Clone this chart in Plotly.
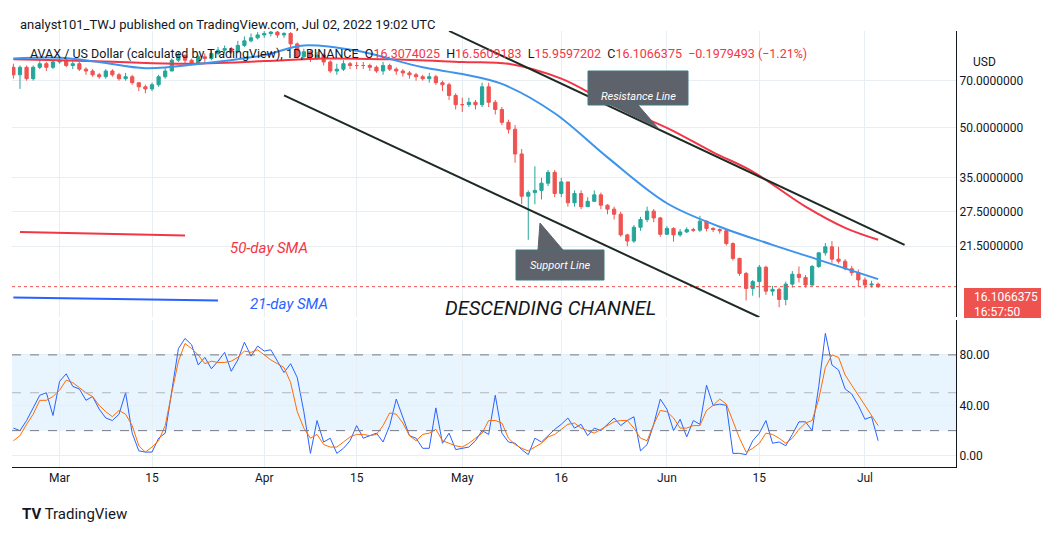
import pandas as pd
import plotly.graph_objects as go
from plotly.subplots import make_subplots

# daily candles, Feb 22 .. Jul 3
dates = pd.date_range("2022-02-22", "2022-07-03", freq="D")
close = [73, 77, 71, 77, 79, 77, 80,
         81, 78, 79, 76, 75, 73, 72, 75, 73, 71, 72, 69, 67, 66, 68, 72, 75, 81, 84, 81, 79, 83, 82, 85, 87, 88, 86, 90, 93, 95, 97,
         98, 99, 97, 98, 91, 83, 86, 83, 84, 80, 75, 76, 79, 78, 78, 78, 77, 75, 78, 76, 75, 74, 73, 72, 71, 72, 69, 68, 63, 59,
         59, 60, 59, 67, 60, 57, 52, 49.5,
         41.5, 30.7, 31.5, 32, 33.7, 36.4, 31.3, 34, 29.3, 31.3, 28.5, 29.6, 31, 28.8, 28, 27, 23.3, 22.3, 24.6, 26, 27.6, 26.3, 23.4,
         24.4, 23.3, 23.8, 24.2, 24.1, 25.7, 24.4, 24.2, 24.0, 21.9, 19.7, 17.7, 15.9, 16.7, 18.5, 15.6, 15.8, 14.7, 16.4, 17.6,
         17.2, 16.3, 18.6, 20.5, 21.4, 19.6, 19.3, 18.3, 17.8, 16.9,
         16.3, 16.4, 16.1066375]
high = [79, 78, 78, 78, 81, 80, 81,
        83, 82, 81, 80, 77, 76, 74, 76, 76, 74, 74, 73, 69, 68, 69, 73, 77, 82, 86, 84, 82, 84, 85, 87, 89, 90, 89, 93, 96, 98, 99,
        100, 101, 100, 99, 99, 92, 88, 87, 86, 85, 81, 79, 81, 80, 80, 80, 79, 78, 80, 79, 77, 76, 75, 74, 73, 74, 73, 70, 69, 64,
        62, 62, 61, 69, 69, 61, 58, 53,
        51, 43, 32, 38, 35, 37, 37, 35, 34, 32, 32, 30.5, 32, 31.5, 29, 28.5, 27.5, 23.5, 25, 26.5, 28.5, 28, 26.5,
        24.8, 24.6, 24.3, 24.6, 24.5, 26.7, 25.8, 24.6, 24.4, 24.3, 22.1, 19.8, 17.9, 16.9, 18.8, 18.7, 16.2, 16.0, 16.7, 18.0,
        18.6, 17.5, 18.8, 20.6, 22.0, 22.3, 21.4, 19.6, 18.7, 18.2,
        17.2, 16.8, 16.5609183]
low = [71, 66, 70, 70, 76, 75, 76,
       79, 77, 76, 75, 73, 72, 71, 71, 72, 70, 70, 68, 65, 64, 65, 67, 71, 75, 80, 79, 78, 79, 80, 81, 84, 85, 85, 85, 89, 92, 94,
       95, 96, 95, 95, 89, 82, 81, 80, 81, 78, 74, 73, 75, 76, 76, 76, 75, 74, 73, 75, 73, 72, 71, 70, 70, 69, 68, 65, 61, 57,
       56, 58, 57, 58, 58, 55, 51, 48,
       39, 29, 22.5, 29, 30, 33, 30.5, 30.5, 28.5, 28.5, 28, 28.5, 29.5, 28, 27, 26, 23, 21.5, 22, 24, 25.5, 25.5, 23,
       23.3, 22.2, 23.0, 23.6, 23.8, 23.8, 23.9, 23.8, 23.5, 21.6, 19.4, 17.4, 14.6, 15.1, 14.9, 15.2, 15.1, 13.9, 14.1, 16.0,
       16.6, 16.0, 16.2, 18.4, 20.1, 19.1, 19.0, 18.1, 17.4, 16.1,
       15.9, 16.0, 15.9597202]
open_ = [77] + close[:-1]

sma50_dates = ["2022-02-22", "2022-03-01", "2022-03-10", "2022-03-20", "2022-04-01", "2022-04-10", "2022-04-20",
               "2022-05-01", "2022-05-08", "2022-05-16", "2022-05-23", "2022-06-01", "2022-06-08", "2022-06-14",
               "2022-06-22", "2022-06-28", "2022-07-03"]
sma50 = [81.5, 81, 80, 79, 80.5, 82, 81.5, 80, 79, 71, 60, 50, 42, 36.6, 28.5, 24.5, 22.5]
sma21_dates = ["2022-02-22", "2022-03-01", "2022-03-07", "2022-03-14", "2022-03-22", "2022-04-01", "2022-04-07",
               "2022-04-15", "2022-04-25", "2022-05-01", "2022-05-07", "2022-05-15", "2022-05-23", "2022-06-01",
               "2022-06-09", "2022-06-17", "2022-06-24", "2022-07-03"]
sma21 = [82, 82.5, 80, 76.5, 78.8, 84, 90, 86.6, 77, 73.4, 68.4, 55.5, 40.5, 29.2, 24.7, 21.7, 19.5, 17]

# stochastic RSI
stoch_k = [22, 20, 28, 38, 48, 50, 32,
           59, 65, 55, 53, 44, 47, 37, 30, 28, 33, 50, 18, 4, 3, 3, 14, 18, 50, 85, 93, 88, 72, 78, 69, 75, 82, 67, 76, 90, 79, 87,
           83, 84, 75, 66, 73, 62, 35, 2, 28, 11, 14, 2, 6, 12, 24, 14, 16, 18, 11, 24, 45, 30, 16, 14, 6, 6, 38, 10, 18, 5,
           6, 7, 12, 20, 17, 48, 18, 11, 10, 5, 1, 14, 11, 16, 21, 25, 30, 22, 25, 16, 22, 20, 25, 30, 24, 28, 31, 4, 9, 25, 45,
           37, 20, 29, 15, 28, 25, 56, 40, 41, 40, 2, 2, 1, 12, 18, 28, 10, 11, 8, 17, 27, 27, 20, 55, 97, 72, 68, 53, 49, 40,
           29, 31, 12]
stoch_d = [12, 16, 25, 33, 44, 44, 47,
           52, 60, 58, 54, 50, 47, 40, 35, 31, 36, 33, 24, 8, 3, 7, 12, 24, 50, 75, 89, 85, 80, 73, 75, 74, 74, 75, 78, 83, 82, 84,
           80, 76, 73, 70, 58, 35, 22, 14, 17, 9, 7, 7, 11, 15, 17, 17, 16, 17, 24, 34, 33, 26, 16, 12, 17, 18, 21, 12, 10, 8,
           7, 10, 14, 18, 28, 28, 26, 14, 9, 6, 4, 7, 10, 15, 17, 21, 25, 26, 22, 20, 18, 21, 24, 27, 28, 28, 22, 14, 12, 25, 36,
           35, 30, 22, 22, 24, 24, 36, 40, 45, 41, 28, 14, 3, 6, 10, 18, 17, 14, 10, 14, 21, 26, 28, 45, 70, 80, 78, 64, 56, 48,
           40, 33, 24]

x_ticks = ["2022-03-01", "2022-03-15", "2022-04-01", "2022-04-15", "2022-05-01", "2022-05-16",
           "2022-06-01", "2022-06-15", "2022-07-01"]
x_labels = ["Mar", "15", "Apr", "15", "May", "16", "Jun", "15", "Jul"]
price_ticks = [21.5, 27.5, 35, 50, 70]

UP, DOWN = "#26a69a", "#ef5350"
GRID = "#e9eef3"
W, H = 1049, 536
L, R, T, B = 4, 101, 23, 77


def px(x, y):
    # pixel -> paper
    return (x - L) / (W - L - R), (H - B - y) / (H - T - B)


fig = make_subplots(rows=2, cols=1, shared_xaxes=True, vertical_spacing=0.005, row_heights=[0.66, 0.34])

fig.add_trace(go.Candlestick(x=dates, open=open_, high=high, low=low, close=close,
                             increasing=dict(line=dict(color=UP, width=1), fillcolor=UP),
                             decreasing=dict(line=dict(color=DOWN, width=1), fillcolor=DOWN),
                             whiskerwidth=0, showlegend=False), row=1, col=1)
fig.add_trace(go.Scatter(x=sma50_dates, y=sma50, mode="lines", line=dict(color="#f23645", width=2, shape="spline"),
                         showlegend=False), row=1, col=1)
fig.add_trace(go.Scatter(x=sma21_dates, y=sma21, mode="lines", line=dict(color="#3d94ec", width=2, shape="spline"),
                         showlegend=False), row=1, col=1)

fig.add_trace(go.Scatter(x=dates, y=stoch_k, mode="lines", line=dict(color="#2962ff", width=1), showlegend=False), row=2, col=1)
fig.add_trace(go.Scatter(x=dates, y=stoch_d, mode="lines", line=dict(color="#ff6d00", width=1), showlegend=False), row=2, col=1)

x_range = ["2022-02-21 19:00", "2022-07-14 19:00"]
fig.update_xaxes(range=x_range, tickvals=x_ticks, ticktext=x_labels, showgrid=True, gridcolor=GRID,
                 rangeslider_visible=False, zeroline=False, showline=False)
fig.update_xaxes(showticklabels=True, ticks="", tickfont=dict(size=12, color="#131722", family="Roboto"),
                 showline=True, linecolor="#131722", row=2, col=1)
fig.update_yaxes(type="log", range=[1.112, 1.999], side="right", tickvals=price_ticks,
                 ticktext=["%.7f" % v for v in price_ticks], gridcolor=GRID, showline=True, linecolor="#131722",
                 ticks="", tickfont=dict(size=12, color="#131722", family="Roboto"), row=1, col=1)
fig.update_yaxes(range=[-8.8, 108], side="right", tickvals=[0, 40, 80], ticktext=["0.00", "40.00", "80.00"],
                 gridcolor=GRID, showline=True, linecolor="#131722", zeroline=False, ticks="",
                 tickfont=dict(size=12, color="#131722", family="Roboto"), row=2, col=1)

# stochastic band
fig.add_hrect(y0=20, y1=80, fillcolor="rgba(33,150,243,0.1)", line_width=0, layer="below", row=2, col=1)
for lvl, c in [(80, "#787b86"), (50, "#b2b5be"), (20, "#787b86")]:
    fig.add_hline(y=lvl, line=dict(color=c, width=1, dash="dash"), row=2, col=1)

# last price line
fig.add_hline(y=close[-1], line=dict(color=DOWN, width=1, dash="dot"), row=1, col=1)

# channel lines
ch = dict(color="#1e2b24", width=2)
fig.add_shape(type="line", x0="2022-04-29", y0=99.8, x1="2022-07-07", y1=21.7, line=ch, xref="x", yref="y")
fig.add_shape(type="line", x0="2022-04-04", y0=63, x1="2022-06-15", y1=12.95, line=ch, xref="x", yref="y")
# legend-like strokes
fig.add_shape(type="line", x0="2022-02-23", y0=23.8, x1="2022-03-20", y1=23.2, line=dict(color="#f23645", width=2),
              xref="x", yref="y")
fig.add_shape(type="line", x0="2022-02-22", y0=14.9, x1="2022-03-25", y1=14.6, line=dict(color="#2962ff", width=2),
              xref="x", yref="y")

ann = []
ann.append(dict(x=px(10, 16)[0], y=px(10, 16)[1], xref="paper", yref="paper", xanchor="left", yanchor="middle",
                showarrow=False, text="analyst101_TWJ published on TradingView.com, Jul 02, 2022 19:02 UTC",
                font=dict(size=13, color="#131722", family="Roboto")))
red = "#f23645"
ann.append(dict(x=px(20, 46)[0], y=px(20, 46)[1], xref="paper", yref="paper", xanchor="left", yanchor="middle",
                showarrow=False, font=dict(size=12.5, color="#131722", family="Roboto"),
                text="AVAX / US Dollar (calculated by TradingView), 1D, BINANCE  O<span style='color:%s'>16.3074025</span>"
                     "  H<span style='color:%s'>16.5609183</span>  L<span style='color:%s'>15.9597202</span>"
                     "  C<span style='color:%s'>16.1066375</span>  <span style='color:%s'>\u22120.1979493 (\u22121.21%%)</span>"
                     % (red, red, red, red, red)))
ann.append(dict(x=px(963, 45)[0], y=px(963, 45)[1], xref="paper", yref="paper", xanchor="left", showarrow=False,
                text="USD", font=dict(size=12, color="#131722", family="Roboto")))
ann.append(dict(x=px(220, 240)[0], y=px(220, 240)[1], xref="paper", yref="paper", xanchor="left", showarrow=False,
                text="<i>50-day SMA</i>", font=dict(size=15, color="#f23645", family="Roboto")))
ann.append(dict(x=px(240, 296)[0], y=px(240, 296)[1], xref="paper", yref="paper", xanchor="left", showarrow=False,
                text="<i>21-day SMA</i>", font=dict(size=15, color="#2962ff", family="Roboto")))
ann.append(dict(x=px(435, 314)[0], y=px(435, 314)[1], xref="paper", yref="paper", xanchor="left", showarrow=False,
                text="<i>DESCENDING CHANNEL</i>", font=dict(size=20, color="#131722", family="Roboto")))
# callouts
for (x0, y0, x1, y1, tri, label) in [
        (580, 63, 680, 97, [(603, 97), (650, 120), (630, 97)], "Resistance Line"),
        (508, 242, 596, 272, [(530, 242), (532, 215), (555, 242)], "Support Line")]:
    a, b = px(x0, y0)
    c, d = px(x1, y1)
    fig.add_shape(type="rect", x0=a, y0=d, x1=c, y1=b, xref="paper", yref="paper",
                  fillcolor="#5d626b", line=dict(color="#3e7a80", width=1))
    path = "M " + " L ".join("%f,%f" % px(*p) for p in tri) + " Z"
    fig.add_shape(type="path", path=path, xref="paper", yref="paper", fillcolor="#5d626b",
                  line=dict(color="#5d626b", width=1))
    ann.append(dict(x=(a + c) / 2, y=(b + d) / 2, xref="paper", yref="paper", showarrow=False,
                    text="<i>%s</i>" % label, font=dict(size=11, color="white", family="Roboto")))
# price label
a, b = px(956, 280)
c, d = px(1040, 310)
fig.add_shape(type="rect", x0=a, y0=d, x1=c, y1=b, xref="paper", yref="paper", fillcolor="#ef5350", line_width=0)
ann.append(dict(x=px(964, 289)[0], y=px(964, 289)[1], xref="paper", yref="paper", xanchor="left", showarrow=False,
                text="16.1066375", font=dict(size=12, color="white", family="Roboto")))
ann.append(dict(x=px(964, 304)[0], y=px(964, 304)[1], xref="paper", yref="paper", xanchor="left", showarrow=False,
                text="16:57:50", font=dict(size=12, color="white", family="Roboto")))
ann.append(dict(x=px(12, 517)[0], y=px(12, 517)[1], xref="paper", yref="paper", xanchor="left", showarrow=False,
                text="<b>TV</b> TradingView", font=dict(size=15, color="#131722", family="Roboto")))

fig.update_layout(width=W, height=H, margin=dict(l=L, r=R, t=T, b=B, autoexpand=False),
                  plot_bgcolor="white", paper_bgcolor="white", annotations=ann, showlegend=False)
fig.write_html("out.html")
